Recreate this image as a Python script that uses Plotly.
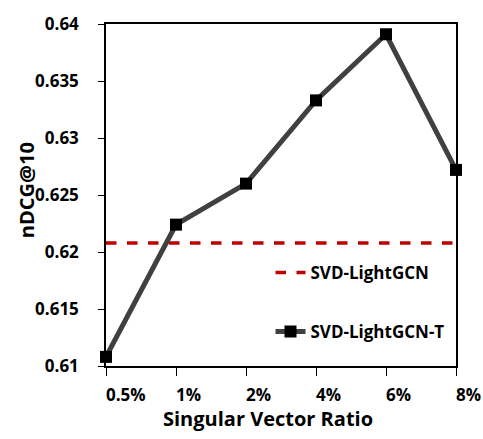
import plotly.graph_objects as go

categories = ["0.5%", "1%", "2%", "4%", "6%", "8%"]
svd_lightgcn_t = [0.6108, 0.6224, 0.6260, 0.6333, 0.6391, 0.6272]
svd_lightgcn = 0.6208
y_ticks = [0.61, 0.615, 0.62, 0.625, 0.63, 0.635, 0.64]
y_labels = ["0.61", "0.615", "0.62", "0.625", "0.63", "0.635", "0.64"]

FONT = "Open Sans"
fig = go.Figure()
fig.add_trace(go.Scatter(
    x=categories, y=[svd_lightgcn] * len(categories), mode="lines",
    name="SVD-LightGCN", legendgroup="a",
    line=dict(color="#C00000", width=3.5, dash="dash"),
))
fig.add_trace(go.Scatter(
    x=categories, y=svd_lightgcn_t, mode="lines+markers",
    name="SVD-LightGCN-T", legendgroup="b",
    line=dict(color="#404040", width=5),
    marker=dict(symbol="square", size=12, color="black"),
    cliponaxis=False,
))

annotations = []
# x tick labels: left-aligned at each tick, as in the reference
for c in categories:
    annotations.append(dict(
        text=c, x=c, xref="x", y=0, yref="paper",
        xanchor="left", yanchor="middle", yshift=-28, xshift=-2,
        showarrow=False,
        font=dict(family=FONT, size=17, weight="bold", color="black"),
    ))
annotations.append(dict(
    text="Singular Vector Ratio", xref="paper", yref="paper",
    x=(268 - 106) / 350, y=-(420 - 366) / 352,
    xanchor="center", yanchor="middle", showarrow=False,
    font=dict(family=FONT, size=20, weight="bold", color="black"),
))
annotations.append(dict(
    text="nDCG@10", xref="paper", yref="paper",
    x=(26 - 106) / 350, y=(366 - 185) / 352, textangle=-90,
    xanchor="center", yanchor="middle", showarrow=False,
    font=dict(family=FONT, size=20, weight="bold", color="black"),
))

fig.update_layout(
    width=483, height=439,
    margin=dict(l=106, r=27, t=14, b=73),
    paper_bgcolor="white", plot_bgcolor="white",
    font=dict(family=FONT, color="black", size=16),
    showlegend=True,
    legend=dict(x=0.47, y=0.325, xanchor="left", yanchor="top",
                bgcolor="rgba(0,0,0,0)", tracegroupgap=34,
                font=dict(family=FONT, size=17, color="black", weight="bold")),
    xaxis=dict(
        type="category", range=[0, 5],
        showline=True, linecolor="black", linewidth=1.5, mirror=True,
        ticks="outside", ticklen=8, tickcolor="black",
        showgrid=False, showticklabels=False,
    ),
    yaxis=dict(
        range=[0.61, 0.64], tickvals=y_ticks, ticktext=y_labels,
        showline=True, linecolor="black", linewidth=1.5, mirror=True,
        ticks="outside", ticklen=6, tickcolor="black",
        showgrid=False, zeroline=False, ticklabelstandoff=16,
        tickfont=dict(family=FONT, size=17, weight="bold"),
    ),
    annotations=annotations,
)
fig.write_html("out.html")
